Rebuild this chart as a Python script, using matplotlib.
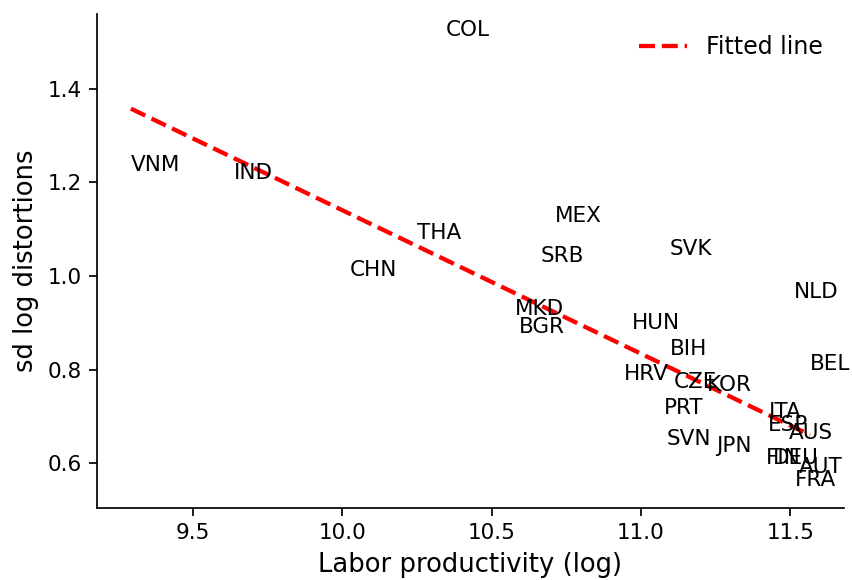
import numpy as np
import matplotlib
matplotlib.use('Agg')
import matplotlib.pyplot as plt

# country codes with log labor productivity and sd of log distortions
countries = ['COL', 'VNM', 'IND', 'THA', 'CHN', 'MEX', 'SRB', 'SVK', 'MKD', 'BGR',
             'NLD', 'HUN', 'BIH', 'BEL', 'HRV', 'CZE', 'KOR', 'PRT', 'ITA', 'ESP',
             'AUS', 'SVN', 'JPN', 'FIN', 'DEU', 'AUT', 'FRA']
productivity = [10.345, 9.292, 9.638, 10.249, 10.026, 10.710, 10.663, 11.097, 10.579, 10.592,
                11.511, 10.968, 11.097, 11.566, 10.941, 11.108, 11.219, 11.078, 11.429, 11.424,
                11.494, 11.087, 11.253, 11.418, 11.443, 11.527, 11.516]
sd_distortions = [1.5115, 1.2241, 1.2063, 1.0791, 1.0004, 1.1147, 1.0290, 1.0455, 0.9168, 0.8788,
                  0.9539, 0.8874, 0.8310, 0.8003, 0.7774, 0.7609, 0.7538, 0.7051, 0.6980, 0.6695,
                  0.6515, 0.6395, 0.6251, 0.5979, 0.5979, 0.5786, 0.5522]

# fitted line
fit_slope = -0.3063
fit_intercept = 4.2035

DPI = 155
fig = plt.figure(figsize=(852 / DPI, 580 / DPI), dpi=DPI)
ax = fig.add_axes([0.1138, 0.1236, 0.9906 - 0.1138, 0.9759 - 0.1236])

x = np.array(productivity)
y = np.array(sd_distortions)

# invisible points so the limits follow the data
ax.scatter(x, y, alpha=0)
for name, xi, yi in zip(countries, x, y):
    ax.text(xi, yi, name, fontsize=10)

xs = np.array([x.min(), x.max()])
ax.plot(xs, fit_intercept + fit_slope * xs, 'r--', lw=2, label='Fitted line')

ax.set_xlabel('Labor productivity (log)', fontsize=12)
ax.set_ylabel('sd log distortions', fontsize=12)
ax.spines['top'].set_visible(False)
ax.spines['right'].set_visible(False)
ax.legend(frameon=False, loc='upper right', fontsize=11)

fig.savefig('out.png', dpi=DPI)
